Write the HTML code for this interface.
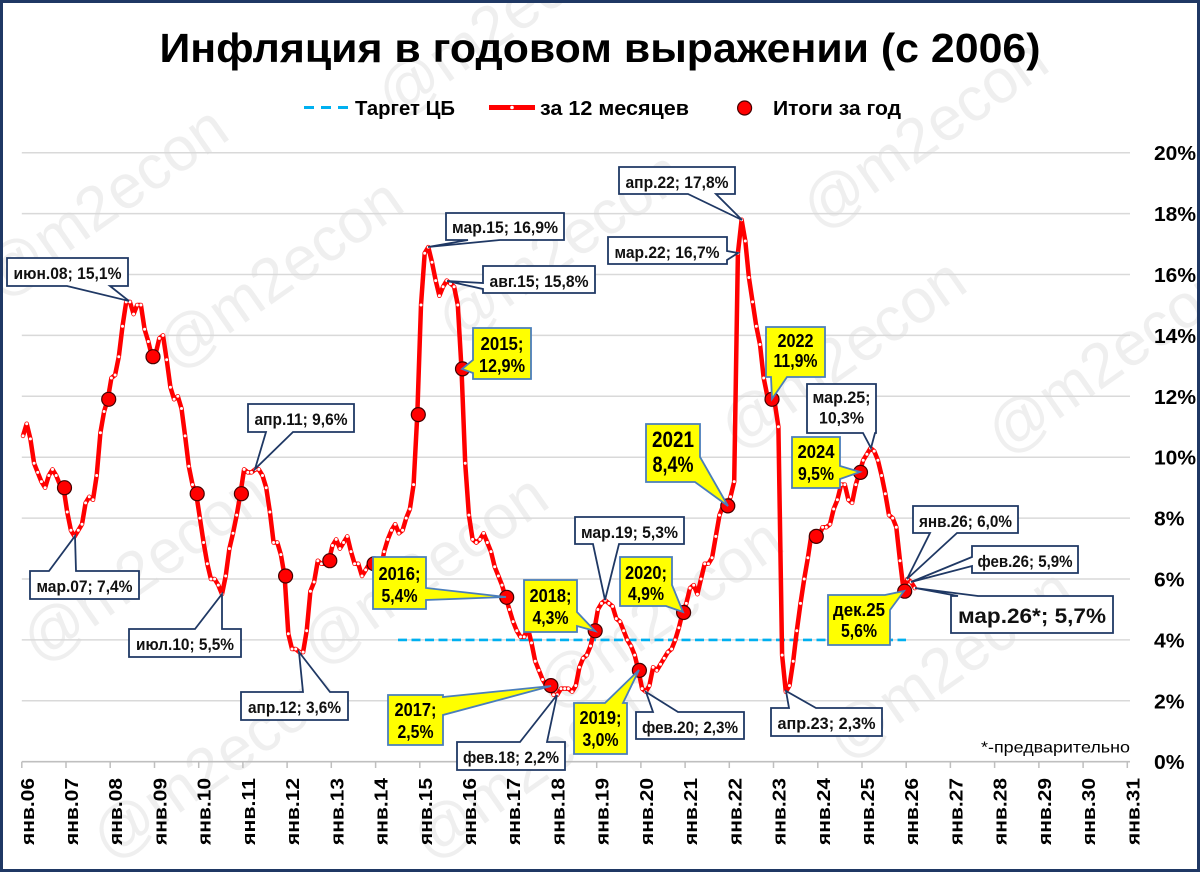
<!DOCTYPE html>
<html>
<head>
<meta charset="utf-8">
<style>
html,body{margin:0;padding:0;background:#fff;width:1200px;height:872px;overflow:hidden}
svg{display:block}
text{font-family:"Liberation Sans",sans-serif}
</style>
</head>
<body>
<svg id="chart" width="1200" height="872" viewBox="0 0 1200 872" xmlns="http://www.w3.org/2000/svg" overflow="hidden">
<rect width="1200" height="872" fill="#fff"/>

<!-- watermarks -->
<g fill="#efefef" font-size="62" font-family="Liberation Sans, sans-serif">
<text transform="translate(40,665) rotate(-35)">@m2econ</text>
<text transform="translate(175,372) rotate(-35)">@m2econ</text>
<text transform="translate(0,300) rotate(-35)">@m2econ</text>
<text transform="translate(395,120) rotate(-35)">@m2econ</text>
<text transform="translate(820,232) rotate(-35)">@m2econ</text>
<text transform="translate(455,345) rotate(-35)">@m2econ</text>
<text transform="translate(555,712) rotate(-35)">@m2econ</text>
<text transform="translate(320,668) rotate(-35)">@m2econ</text>
<text transform="translate(845,762) rotate(-35)">@m2econ</text>
<text transform="translate(1005,457) rotate(-35)">@m2econ</text>
<text transform="translate(738,452) rotate(-35)">@m2econ</text>
<text transform="translate(110,862) rotate(-35)">@m2econ</text>
<text transform="translate(430,862) rotate(-35)">@m2econ</text>
</g>

<!-- title -->
<text x="600" y="62" text-anchor="middle" font-size="41" font-weight="bold" fill="#000" textLength="881" lengthAdjust="spacingAndGlyphs">Инфляция в годовом выражении (с 2006)</text>

<!-- legend -->
<line x1="304" y1="107.5" x2="349" y2="107.5" stroke="#00B0F0" stroke-width="3" stroke-dasharray="10 7"/>
<text x="355" y="115" font-size="20" font-weight="bold" fill="#000" textLength="100" lengthAdjust="spacingAndGlyphs">Таргет ЦБ</text>
<line x1="489" y1="107.5" x2="535" y2="107.5" stroke="#FF0000" stroke-width="5"/>
<circle cx="512" cy="107.5" r="1.8" fill="#fff"/>
<text x="540" y="115" font-size="20" font-weight="bold" fill="#000" textLength="149" lengthAdjust="spacingAndGlyphs">за 12 месяцев</text>
<circle cx="744.6" cy="108" r="7" fill="#FF0000" stroke="#400" stroke-width="1.2"/>
<text x="773" y="115" font-size="20" font-weight="bold" fill="#000" textLength="128" lengthAdjust="spacingAndGlyphs">Итоги за год</text>

<!-- gridlines -->
<g stroke="#d9d9d9" stroke-width="1.5">
<line x1="21.8" x2="1130" y1="152.7" y2="152.7"/>
<line x1="21.8" x2="1130" y1="213.6" y2="213.6"/>
<line x1="21.8" x2="1130" y1="274.5" y2="274.5"/>
<line x1="21.8" x2="1130" y1="335.4" y2="335.4"/>
<line x1="21.8" x2="1130" y1="396.3" y2="396.3"/>
<line x1="21.8" x2="1130" y1="457.2" y2="457.2"/>
<line x1="21.8" x2="1130" y1="518.1" y2="518.1"/>
<line x1="21.8" x2="1130" y1="579.0" y2="579.0"/>
<line x1="21.8" x2="1130" y1="639.9" y2="639.9"/>
<line x1="21.8" x2="1130" y1="700.8" y2="700.8"/>
</g>
<line x1="21.8" x2="1130" y1="761.7" y2="761.7" stroke="#bfbfbf" stroke-width="1.6"/>
<path stroke="#bfbfbf" stroke-width="1.5" fill="none" d="M21.8,761.7V768M66,761.7V768M110.2,761.7V768M154.5,761.7V768M198.7,761.7V768M242.9,761.7V768M287.1,761.7V768M331.3,761.7V768M375.6,761.7V768M419.8,761.7V768M464,761.7V768M508.2,761.7V768M552.4,761.7V768M596.7,761.7V768M640.9,761.7V768M685.1,761.7V768M729.3,761.7V768M773.5,761.7V768M817.8,761.7V768M862,761.7V768M906.2,761.7V768M950.4,761.7V768M994.6,761.7V768M1038.9,761.7V768M1083.1,761.7V768M1127.3,761.7V768"/>

<!-- y labels -->
<g font-size="20" font-weight="bold" fill="#000">
<text x="1154" y="160.2" textLength="42" lengthAdjust="spacingAndGlyphs">20%</text>
<text x="1154" y="221.1" textLength="42" lengthAdjust="spacingAndGlyphs">18%</text>
<text x="1154" y="282" textLength="42" lengthAdjust="spacingAndGlyphs">16%</text>
<text x="1154" y="342.9" textLength="42" lengthAdjust="spacingAndGlyphs">14%</text>
<text x="1154" y="403.8" textLength="42" lengthAdjust="spacingAndGlyphs">12%</text>
<text x="1154" y="464.7" textLength="42" lengthAdjust="spacingAndGlyphs">10%</text>
<text x="1154" y="525.6" textLength="30.5" lengthAdjust="spacingAndGlyphs">8%</text>
<text x="1154" y="586.5" textLength="30.5" lengthAdjust="spacingAndGlyphs">6%</text>
<text x="1154" y="647.4" textLength="30.5" lengthAdjust="spacingAndGlyphs">4%</text>
<text x="1154" y="708.3" textLength="30.5" lengthAdjust="spacingAndGlyphs">2%</text>
<text x="1154" y="769.2" textLength="30.5" lengthAdjust="spacingAndGlyphs">0%</text>
</g>

<!-- x labels -->
<g font-size="18" font-weight="bold" fill="#000">
<text transform="translate(33.8,845) rotate(-90)" textLength="67" lengthAdjust="spacingAndGlyphs">янв.06</text>
<text transform="translate(78,845) rotate(-90)" textLength="67" lengthAdjust="spacingAndGlyphs">янв.07</text>
<text transform="translate(122.2,845) rotate(-90)" textLength="67" lengthAdjust="spacingAndGlyphs">янв.08</text>
<text transform="translate(166.5,845) rotate(-90)" textLength="67" lengthAdjust="spacingAndGlyphs">янв.09</text>
<text transform="translate(210.7,845) rotate(-90)" textLength="67" lengthAdjust="spacingAndGlyphs">янв.10</text>
<text transform="translate(254.9,845) rotate(-90)" textLength="67" lengthAdjust="spacingAndGlyphs">янв.11</text>
<text transform="translate(299.1,845) rotate(-90)" textLength="67" lengthAdjust="spacingAndGlyphs">янв.12</text>
<text transform="translate(343.3,845) rotate(-90)" textLength="67" lengthAdjust="spacingAndGlyphs">янв.13</text>
<text transform="translate(387.6,845) rotate(-90)" textLength="67" lengthAdjust="spacingAndGlyphs">янв.14</text>
<text transform="translate(431.8,845) rotate(-90)" textLength="67" lengthAdjust="spacingAndGlyphs">янв.15</text>
<text transform="translate(476,845) rotate(-90)" textLength="67" lengthAdjust="spacingAndGlyphs">янв.16</text>
<text transform="translate(520.2,845) rotate(-90)" textLength="67" lengthAdjust="spacingAndGlyphs">янв.17</text>
<text transform="translate(564.4,845) rotate(-90)" textLength="67" lengthAdjust="spacingAndGlyphs">янв.18</text>
<text transform="translate(608.7,845) rotate(-90)" textLength="67" lengthAdjust="spacingAndGlyphs">янв.19</text>
<text transform="translate(652.9,845) rotate(-90)" textLength="67" lengthAdjust="spacingAndGlyphs">янв.20</text>
<text transform="translate(697.1,845) rotate(-90)" textLength="67" lengthAdjust="spacingAndGlyphs">янв.21</text>
<text transform="translate(741.3,845) rotate(-90)" textLength="67" lengthAdjust="spacingAndGlyphs">янв.22</text>
<text transform="translate(785.5,845) rotate(-90)" textLength="67" lengthAdjust="spacingAndGlyphs">янв.23</text>
<text transform="translate(829.8,845) rotate(-90)" textLength="67" lengthAdjust="spacingAndGlyphs">янв.24</text>
<text transform="translate(874,845) rotate(-90)" textLength="67" lengthAdjust="spacingAndGlyphs">янв.25</text>
<text transform="translate(918.2,845) rotate(-90)" textLength="67" lengthAdjust="spacingAndGlyphs">янв.26</text>
<text transform="translate(962.4,845) rotate(-90)" textLength="67" lengthAdjust="spacingAndGlyphs">янв.27</text>
<text transform="translate(1006.6,845) rotate(-90)" textLength="67" lengthAdjust="spacingAndGlyphs">янв.28</text>
<text transform="translate(1050.9,845) rotate(-90)" textLength="67" lengthAdjust="spacingAndGlyphs">янв.29</text>
<text transform="translate(1095.1,845) rotate(-90)" textLength="67" lengthAdjust="spacingAndGlyphs">янв.30</text>
<text transform="translate(1139.3,845) rotate(-90)" textLength="67" lengthAdjust="spacingAndGlyphs">янв.31</text>
</g>

<text x="981" y="752.5" font-size="16" fill="#000" textLength="149" lengthAdjust="spacingAndGlyphs">*-предварительно</text>

<!-- target line -->
<line x1="398" y1="639.9" x2="906" y2="639.9" stroke="#00B0F0" stroke-width="2.6" stroke-dasharray="9 4.5"/>

<!-- series -->
<polyline id="ln" fill="none" stroke="#FF0000" stroke-width="4.5" stroke-linejoin="round" stroke-linecap="round" points=""/>
<g id="mk" fill="#fff"></g>
<g id="dots" fill="#FF0000" stroke="#400" stroke-width="1.2"></g>

<!-- white callouts -->
<g fill="#fff" stroke="#1F3864" stroke-width="1.8" stroke-linejoin="miter">
<path d="M7,258H128V286H110L129,301L67,286H7Z"/>
<path d="M30,571H49L75,536L76,571H139V599H30Z"/>
<path d="M129,629H195L222,594L222,629H241V657H129Z"/>
<path d="M248,404H354V432H293L255,469L266,432H248Z"/>
<path d="M241,692H303L299,652L330,692H348V720H241Z"/>
<path d="M446,213H564V240H500L428,247L468,240H446Z"/>
<path d="M483,266H595V293H483V289L447,281L483,283Z"/>
<path d="M619,167H735V194H716L742,220L688,194H619Z"/>
<path d="M608,237H727V251L738,253L727,260V264H608Z"/>
<path d="M575,517H684V544H619L605,600L593,544H575Z"/>
<path d="M457,742H520L557,695L547,742H565V770H457Z"/>
<path d="M636,712H653L646,692L678,712H744V739H636Z"/>
<path d="M771,708H789L786,691L816,708H882V736H771Z"/>
<path d="M807,384H876V433H875L871,448L863,433H807Z"/>
<path d="M913,506H1018V533H957L907,579L930,533H913Z"/>
<path d="M972,546H1078V573H972V566L911,582L972,557Z"/>
<path d="M951,596H958L915,588L978,596H1113V633H951Z"/>
</g>
<g font-size="17" font-weight="bold" fill="#111" text-anchor="middle">
<text x="67.5" y="279" textLength="108" lengthAdjust="spacingAndGlyphs">июн.08; 15,1%</text>
<text x="84.5" y="592" textLength="96" lengthAdjust="spacingAndGlyphs">мар.07; 7,4%</text>
<text x="185" y="650" textLength="98" lengthAdjust="spacingAndGlyphs">июл.10; 5,5%</text>
<text x="301" y="425" textLength="93" lengthAdjust="spacingAndGlyphs">апр.11; 9,6%</text>
<text x="294.5" y="713" textLength="93" lengthAdjust="spacingAndGlyphs">апр.12; 3,6%</text>
<text x="505" y="233" textLength="106" lengthAdjust="spacingAndGlyphs">мар.15; 16,9%</text>
<text x="539" y="287" textLength="99" lengthAdjust="spacingAndGlyphs">авг.15; 15,8%</text>
<text x="677" y="188" textLength="103" lengthAdjust="spacingAndGlyphs">апр.22; 17,8%</text>
<text x="667" y="258" textLength="105" lengthAdjust="spacingAndGlyphs">мар.22; 16,7%</text>
<text x="629.5" y="538" textLength="97" lengthAdjust="spacingAndGlyphs">мар.19; 5,3%</text>
<text x="511" y="763" textLength="96" lengthAdjust="spacingAndGlyphs">фев.18; 2,2%</text>
<text x="690" y="733" textLength="96" lengthAdjust="spacingAndGlyphs">фев.20; 2,3%</text>
<text x="826.5" y="729" textLength="98" lengthAdjust="spacingAndGlyphs">апр.23; 2,3%</text>
<text x="841.5" y="403" textLength="58" lengthAdjust="spacingAndGlyphs">мар.25;</text>
<text x="841.5" y="423.5" textLength="45" lengthAdjust="spacingAndGlyphs">10,3%</text>
<text x="965.5" y="527" textLength="93" lengthAdjust="spacingAndGlyphs">янв.26; 6,0%</text>
<text x="1025" y="567" textLength="95" lengthAdjust="spacingAndGlyphs">фев.26; 5,9%</text>
<text x="1032" y="623" font-size="21" textLength="148" lengthAdjust="spacingAndGlyphs">мар.26*; 5,7%</text>
</g>

<!-- yellow callouts -->
<g fill="#FFFF00" stroke="#4A7EBB" stroke-width="1.8">
<path d="M473,328H531V379H473V373L462,369L473,360Z"/>
<path d="M646,424H700V457L728,506L695,482H646Z"/>
<path d="M766,327H825V377H787L772,399L771,377H766Z"/>
<path d="M792,437H840V466L860,472L840,479V488H792Z"/>
<path d="M828,595H885L904,591L890,610V645H828Z"/>
<path d="M373,557H426V588L506,597L426,600V609H373Z"/>
<path d="M388,695H443V697L551,686L443,715V745H388Z"/>
<path d="M524,580H577V612L595,631L577,626V632H524Z"/>
<path d="M574,703H605L639,670L623,703H627V754H574Z"/>
<path d="M620,557H672V585L683,612L666,606H620Z"/>
</g>
<g font-size="18" font-weight="bold" fill="#000" text-anchor="middle">
<text x="502" y="350" textLength="43" lengthAdjust="spacingAndGlyphs">2015;</text>
<text x="502" y="372" textLength="46" lengthAdjust="spacingAndGlyphs">12,9%</text>
<text x="673" y="447" font-size="22" textLength="42" lengthAdjust="spacingAndGlyphs">2021</text>
<text x="673" y="472" font-size="22" textLength="41" lengthAdjust="spacingAndGlyphs">8,4%</text>
<text x="795.5" y="347" textLength="36" lengthAdjust="spacingAndGlyphs">2022</text>
<text x="795.5" y="367" textLength="44" lengthAdjust="spacingAndGlyphs">11,9%</text>
<text x="816" y="458" textLength="37" lengthAdjust="spacingAndGlyphs">2024</text>
<text x="816" y="480" textLength="36" lengthAdjust="spacingAndGlyphs">9,5%</text>
<text x="859" y="616" textLength="52" lengthAdjust="spacingAndGlyphs">дек.25</text>
<text x="859" y="637" textLength="36" lengthAdjust="spacingAndGlyphs">5,6%</text>
<text x="399.5" y="580" textLength="42" lengthAdjust="spacingAndGlyphs">2016;</text>
<text x="399.5" y="602" textLength="36" lengthAdjust="spacingAndGlyphs">5,4%</text>
<text x="415.5" y="716" textLength="42" lengthAdjust="spacingAndGlyphs">2017;</text>
<text x="415.5" y="738" textLength="36" lengthAdjust="spacingAndGlyphs">2,5%</text>
<text x="550.5" y="602" textLength="42" lengthAdjust="spacingAndGlyphs">2018;</text>
<text x="550.5" y="624" textLength="36" lengthAdjust="spacingAndGlyphs">4,3%</text>
<text x="600.5" y="724" textLength="42" lengthAdjust="spacingAndGlyphs">2019;</text>
<text x="600.5" y="746" textLength="36" lengthAdjust="spacingAndGlyphs">3,0%</text>
<text x="646" y="579" textLength="42" lengthAdjust="spacingAndGlyphs">2020;</text>
<text x="646" y="600" textLength="36" lengthAdjust="spacingAndGlyphs">4,9%</text>
</g>

<!-- border -->
<rect x="1.5" y="1.5" width="1197" height="869" fill="none" stroke="#1F3864" stroke-width="3"/>
</svg>
<script>
(function(){
var D=[
10.7,11.1,10.6,9.8,9.5,9.2,9.0,9.4,9.6,9.4,9.1,9.0,
8.2,7.6,7.4,7.6,7.8,8.5,8.7,8.6,9.4,10.8,11.5,11.9,
12.6,12.7,13.3,14.3,15.1,15.1,14.7,15.0,15.0,14.2,13.8,13.3,
13.4,13.9,14.0,13.2,12.3,11.9,12.0,11.6,10.7,9.7,9.1,8.8,
8.0,7.2,6.5,6.0,6.0,5.8,5.5,6.1,7.0,7.5,8.1,8.8,
9.6,9.5,9.5,9.6,9.6,9.4,9.0,8.2,7.2,7.2,6.8,6.1,
4.2,3.7,3.7,3.6,3.6,4.3,5.6,5.9,6.6,6.5,6.5,6.6,
7.1,7.3,7.0,7.2,7.4,6.9,6.5,6.5,6.1,6.3,6.5,6.5,
6.1,6.2,6.9,7.3,7.6,7.8,7.5,7.6,8.0,8.3,9.1,11.4,
15.0,16.7,16.9,16.4,15.8,15.3,15.6,15.8,15.7,15.6,15.0,12.9,
9.8,8.1,7.3,7.2,7.3,7.5,7.2,6.9,6.4,6.1,5.8,5.4,
5.0,4.6,4.3,4.1,4.1,4.4,3.9,3.3,3.0,2.7,2.5,2.5,
2.2,2.2,2.4,2.4,2.4,2.3,2.5,3.1,3.4,3.5,3.8,4.3,
5.0,5.2,5.3,5.2,5.1,4.7,4.6,4.3,4.0,3.8,3.5,3.0,
2.4,2.3,2.5,3.1,3.0,3.2,3.4,3.6,3.7,4.0,4.4,4.9,
5.2,5.7,5.8,5.5,6.0,6.5,6.5,6.7,7.4,8.1,8.4,8.4,
8.7,9.2,16.7,17.8,17.1,15.9,15.1,14.3,13.7,12.6,12.0,11.9,
11.8,11.0,3.5,2.3,2.5,3.3,4.3,5.2,6.0,6.7,7.5,7.4,
7.4,7.7,7.7,7.8,8.3,8.6,9.1,9.1,8.6,8.5,9.1,9.5,
9.9,10.1,10.3,10.2,9.9,9.4,8.8,8.1,8.0,7.7,6.6,5.6,
6.0,5.9,5.7];
var A=[9.0,11.9,13.3,8.8,8.8,6.1,6.6,6.5,11.4,12.9,5.4,2.5,4.3,3.0,4.9,8.4,11.9,7.4,9.5,5.6];
var NS="http://www.w3.org/2000/svg";
var pts=[],mk=document.getElementById("mk"),dots=document.getElementById("dots");
for(var i=0;i<D.length;i++){
var x=23+44.22*i/12,y=761.7-30.45*D[i];
pts.push(x.toFixed(1)+","+y.toFixed(1));
var c=document.createElementNS(NS,"circle");
c.setAttribute("cx",x.toFixed(1));c.setAttribute("cy",y.toFixed(1));c.setAttribute("r","1.5");
mk.appendChild(c);
}
document.getElementById("ln").setAttribute("points",pts.join(" "));
for(var k=1;k<=A.length;k++){
var dx=21.8+44.22*k-1.5,dy=761.7-30.45*A[k-1];
var d=document.createElementNS(NS,"circle");
d.setAttribute("cx",dx.toFixed(1));d.setAttribute("cy",dy.toFixed(1));d.setAttribute("r","7");
dots.appendChild(d);
}
})();
</script>
</body>
</html>
